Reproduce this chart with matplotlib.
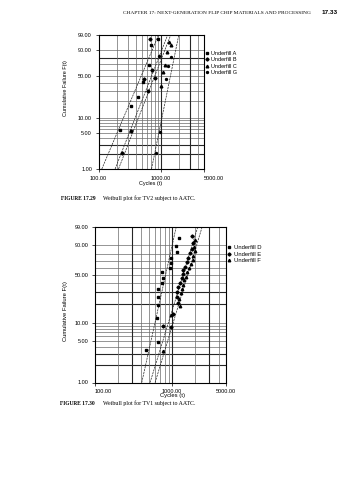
import numpy as np
import matplotlib
matplotlib.use("Agg")
import matplotlib.pyplot as plt

plt.rcParams["font.family"] = ["Liberation Sans", "DejaVu Sans"]

# ---- data (cycles, cumulative failure %) ----
# Figure 17.29 (TV2)
A_cyc = [226, 328, 431, 519, 640, 708, 904]
A_pct = [5.7, 16.5, 24, 41, 69.5, 94.6, 98]
B_cyc = [238, 328, 537, 624, 717, 665, 800]
B_pct = [2.1, 5.5, 45.5, 30, 60.6, 97.7, 48]
C_cyc = [1024, 1090, 1161, 1260, 1346, 1486]
C_pct = [36, 57, 69, 88, 96.6, 94.6]
G_cyc = [830, 963, 1237, 1320, 1486, 935]
G_pct = [2.1, 5.3, 46, 68, 82, 83]
fit1_lo = [113, 185, 210, 714]      # cycles where each fit line hits 1 %
fit1_hi = [927, 1300, 1455, 1963]   # cycles where each fit line hits 99 %

# Figure 17.30 (TV1)
D_cyc = [459, 664, 644, 664, 664, 664, 735, 757, 735, 942, 961, 961, 1151, 1127, 1245]
D_pct = [3.6, 4.8, 12.0, 19.0, 25.4, 33.5, 39.2, 46.4, 53.6, 60.2, 66.6, 73.7, 82.3, 88.9, 95.1]
E_cyc = [1803, 1891, 1803, 1713, 1629, 1549, 1476, 1403, 1376, 1336, 1270, 1208,
         1172, 1151, 1208, 1040, 961, 757]
E_pct = [96.2, 91.1, 85.5, 80.3, 74.6, 69.0, 61.7, 56.9, 50.8, 45.5, 39.2, 35.3,
         30.0, 25.4, 20.9, 14.1, 8.6, 8.8]
F_cyc = [1990, 1931, 1990, 1891, 1855, 1747, 1679, 1581, 1520, 1432, 1376, 1336,
         1297, 1245, 1270, 961, 771]
F_pct = [93.6, 87.9, 83.2, 77.3, 71.3, 65.2, 59.3, 54.5, 47.6, 43.3, 37.2, 32.8,
         28.5, 23.4, 18.5, 13.6, 3.4]
fit2_lo = [404, 518, 602]
fit2_hi = [1130, 2150, 2450]

X_TICKS = [100, 1000, 5000]
Y_TICKS = [1, 5, 10, 50, 90, 99]
GRID_X = [200, 300, 400, 500, 600, 700, 800, 900, 1000, 2000, 3000, 4000]
GRID_F = [2, 3, 4, 5, 6, 7, 8, 9, 10, 20, 30, 40, 50, 60, 70, 80, 90]


def wfwd(p):
    p = np.clip(np.asarray(p, dtype=float), 1e-6, 100 - 1e-6)
    return np.log(-np.log(1 - p / 100.0))


def winv(w):
    return 100.0 * (1 - np.exp(-np.exp(np.asarray(w, dtype=float))))


def weibull_axes(fig, rect, dark_f, dark_x):
    ax = fig.add_axes(rect)
    ax.set_xscale("log")
    ax.set_yscale("function", functions=(wfwd, winv))
    ax.set_xlim(100, 5000)
    ax.set_ylim(1, 99)
    for f in GRID_F:
        dk = f in dark_f
        ax.axhline(f, color="0.15" if dk else "0.42", lw=0.8 if dk else 0.5, zorder=1)
    for c in GRID_X:
        dk = c in dark_x
        ax.axvline(c, color="0.15" if dk else "0.42", lw=0.8 if dk else 0.5, zorder=1)
    ax.set_xticks(X_TICKS)
    ax.set_xticklabels([f"{v:.2f}" for v in X_TICKS])
    ax.set_yticks(Y_TICKS)
    ax.set_yticklabels([f"{v:.2f}" for v in Y_TICKS])
    ax.xaxis.set_minor_locator(matplotlib.ticker.NullLocator())
    ax.yaxis.set_minor_locator(matplotlib.ticker.NullLocator())
    ax.tick_params(labelsize=4, length=2.2, width=0.5, pad=2.5, direction="out")
    for s in ax.spines.values():
        s.set_linewidth(0.8)
    return ax


def fit_lines(ax, lo, hi):
    for a, b in zip(lo, hi):
        ax.plot([a, b], [1, 99], color="0.15", lw=0.5, ls=(0, (3, 1.2)), zorder=2)


fig = plt.figure(figsize=(3.58, 4.8), dpi=100)

# header
fig.text(123 / 358, 1 - 13 / 480, "CHAPTER 17: NEXT-GENERATION FLIP CHIP MATERIALS AND PROCESSING",
         family="Liberation Serif", fontsize=3.9, va="center", ha="left")
fig.text(338 / 358, 1 - 13 / 480, "17.33", fontsize=4.6, weight="bold", va="center", ha="right")

# ---- Figure 17.29 ----
ax1 = weibull_axes(fig, [98.5 / 358, 1 - 169 / 480, 105.5 / 358, 134 / 480],
                   dark_f=[2, 3, 80], dark_x=[1000, 3000])
fit_lines(ax1, fit1_lo, fit1_hi)
mk = dict(color="black", ls="none", zorder=3)
ax1.plot(A_cyc, A_pct, marker="s", ms=1.9, label="Underfill A", **mk)
ax1.plot(B_cyc, B_pct, marker="D", ms=1.6, label="Underfill B", **mk)
ax1.plot(C_cyc, C_pct, marker="^", ms=1.9, label="Underfill C", **mk)
ax1.plot(G_cyc, G_pct, marker="o", ms=1.4, label="Underfill G", **mk)
ax1.get_xticklabels()[-1].set_ha("left")
ax1.legend(loc="upper left", bbox_to_anchor=(1.0, 0.89), frameon=False, fontsize=4,
           handlelength=0.6, handletextpad=0.5, labelspacing=0.25, borderaxespad=0.1,
           borderpad=0.1)
fig.text(66 / 358, 1 - 88 / 480, "Cumulative Failure F(t)", rotation=90, fontsize=4,
         ha="center", va="center")
fig.text(151 / 358, 1 - 183 / 480, "Cycles (t)", fontsize=4, ha="center", va="center")
fig.text(61 / 358, 1 - 198.5 / 480, "FIGURE 17.29", family="Liberation Serif", weight="bold",
         fontsize=4, ha="left", va="center")
fig.text(103 / 358, 1 - 198.5 / 480, "Weibull plot for TV2 subject to AATC.",
         family="Liberation Serif", fontsize=4.2, ha="left", va="center")

# ---- Figure 17.30 ----
ax2 = weibull_axes(fig, [95 / 358, 1 - 382.5 / 480, 131 / 358, 155.5 / 480],
                   dark_f=[2, 3, 20, 30], dark_x=[300, 1000, 3000])
fit_lines(ax2, fit2_lo, fit2_hi)
ax2.plot(D_cyc, D_pct, marker="s", ms=2.0, label="Underfill D", **mk)
ax2.plot(E_cyc, E_pct, marker="D", ms=1.6, label="Underfill E", **mk)
ax2.plot(F_cyc, F_pct, marker="^", ms=1.8, label="Underfill F", **mk)
ax2.get_xticklabels()[0].set_ha("left")
ax2.legend(loc="upper left", bbox_to_anchor=(1.0, 0.89), frameon=False, fontsize=4.2,
           handlelength=0.6, handletextpad=0.5, labelspacing=0.25, borderaxespad=0.1,
           borderpad=0.1)
fig.text(66 / 358, 1 - 311 / 480, "Cumulative Failure F(t)", rotation=90, fontsize=4.2,
         ha="center", va="center")
fig.text(172 / 358, 1 - 396 / 480, "Cycles (t)", fontsize=4.2, ha="center", va="center")
fig.text(60 / 358, 1 - 403.5 / 480, "FIGURE 17.30", family="Liberation Serif", weight="bold",
         fontsize=4, ha="left", va="center")
fig.text(103 / 358, 1 - 403.5 / 480, "Weibull plot for TV1 subject to AATC.",
         family="Liberation Serif", fontsize=4.2, ha="left", va="center")

fig.savefig("out.png", dpi=100)
